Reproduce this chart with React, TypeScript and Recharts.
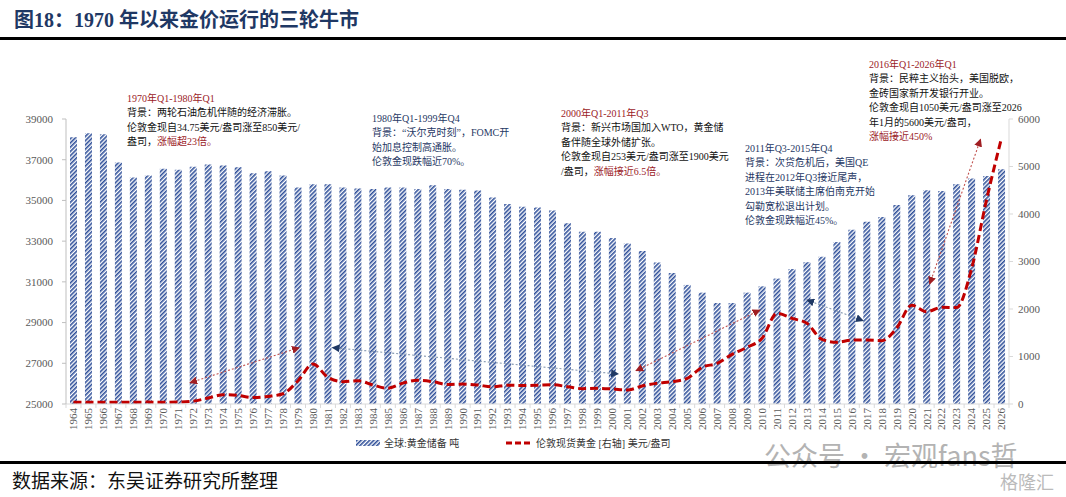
import React from 'react';
import { ComposedChart, Bar, Line, XAxis, YAxis, ReferenceLine } from 'recharts';

// ---------- data ----------
const YEARS = [
  '1964', '1965', '1966', '1967', '1968', '1969', '1970', '1971', '1972', '1973',
  '1974', '1975', '1976', '1977', '1978', '1979', '1980', '1981', '1982', '1983',
  '1984', '1985', '1986', '1987', '1988', '1989', '1990', '1991', '1992', '1993',
  '1994', '1995', '1996', '1997', '1998', '1999', '2000', '2001', '2002', '2003',
  '2004', '2005', '2006', '2007', '2008', '2009', '2010', '2011', '2012', '2013',
  '2014', '2015', '2016', '2017', '2018', '2019', '2020', '2021', '2022', '2023',
  '2024', '2025', '2026',
];

// 全球:黄金储备 吨 (left axis)
const RESERVES = [
  38100, 38300, 38250, 36860, 36130, 36230, 36560, 36510, 36660, 36770,
  36710, 36630, 36330, 36430, 36220, 35640, 35790, 35790, 35640, 35590,
  35560, 35640, 35640, 35560, 35740, 35560, 35530, 35490, 35150, 34820,
  34690, 34650, 34510, 33880, 33460, 33460, 33160, 32880, 32520, 31950,
  31440, 30850, 30470, 29960, 29960, 30470, 30780, 31160, 31630, 31960,
  32230, 32960, 33560, 33950, 34180, 34770, 35260, 35500, 35460, 35800,
  36080, 36200, 36530,
];

// 伦敦现货黄金 美元/盎司 (right axis)
const PRICE = [
  35, 35, 35, 35, 38, 40, 36, 40, 60, 125,
  195, 180, 135, 160, 215, 490, 840, 560, 470, 490,
  400, 330, 440, 500, 470, 410, 420, 400, 360, 395,
  390, 395, 405, 365, 323, 330, 316, 295, 379, 435,
  470, 540, 772, 856, 1046, 1193, 1382, 1909, 1804, 1698,
  1361, 1298, 1347, 1347, 1333, 1600, 2080, 1944, 2035, 2030,
  2850, 4300, 5600,
];

const LEFT_TICKS = [25000, 27000, 29000, 31000, 33000, 35000, 37000, 39000];
const RIGHT_TICKS = [0, 1000, 2000, 3000, 4000, 5000, 6000];
const LEFT_DOMAIN = [25000, 39000];
const RIGHT_DOMAIN = [0, 6000];

const SERIES_BAR = '全球:黄金储备 吨';
const SERIES_LINE = '伦敦现货黄金 [右轴] 美元/盎司';

const TITLE = '图18：1970 年以来金价运行的三轮牛市';
const SOURCE = '数据来源：东吴证券研究所整理';

// arrow annotations: [category index, price] at both ends
const ARROWS = [
  { from: [7.78, 448], to: [15.08, 1186], kind: 'red' },
  { from: [17.3, 1186], to: [36.4, 632], kind: 'blue' },
  { from: [37.58, 701], to: [45.86, 1979], kind: 'red' },
  { from: [49.0, 2189], to: [52.76, 1754], kind: 'blue' },
  { from: [57.2, 2526], to: [60.6, 5572], kind: 'red' },
];

// ---------- styles ----------
const RED = '#9B1B1F';
const BLUE = '#1F3864';
const BLACK = '#111111';
const FONT = "'Liberation Serif', 'Times New Roman', 'Noto Sans CJK SC', serif";
const AXIS_GRAY = '#595959';

const W = 1066;
const H = 497;
const PLOT_LEFT = 66;
const PLOT_RIGHT = 1009;
const PLOT_TOP = 119;
const PLOT_BOTTOM = 404;
const STEP = (PLOT_RIGHT - PLOT_LEFT) / YEARS.length;

type Seg = [string, string?];
const ANNOTATIONS: { x: number; y: number; color: string; lines: Seg[][] }[] = [
  {
    x: 127, y: 99, color: BLACK,
    lines: [
      [['1970年Q1-1980年Q1', RED]],
      [['背景：两轮石油危机伴随的经济滞胀。']],
      [['伦敦金现自34.75美元/盎司涨至850美元/']],
      [['盎司，'], ['涨幅超23倍。', RED]],
    ],
  },
  {
    x: 372, y: 119, color: BLUE,
    lines: [
      [['1980年Q1-1999年Q4']],
      [['背景：“沃尔克时刻”，FOMC开']],
      [['始加息控制高通胀。']],
      [['伦敦金现跌幅近70%。']],
    ],
  },
  {
    x: 561, y: 114, color: BLACK,
    lines: [
      [['2000年Q1-2011年Q3', RED]],
      [['背景：新兴市场国加入WTO，黄金储']],
      [['备伴随全球外储扩张。']],
      [['伦敦金现自253美元/盎司涨至1900美元']],
      [['/盎司，'], ['涨幅接近6.5倍。', RED]],
    ],
  },
  {
    x: 745, y: 149, color: BLUE,
    lines: [
      [['2011年Q3-2015年Q4']],
      [['背景：次贷危机后，美国QE']],
      [['进程在2012年Q3接近尾声，']],
      [['2013年美联储主席伯南克开始']],
      [['勾勒宽松退出计划。']],
      [['伦敦金现跌幅近45%。']],
    ],
  },
  {
    x: 869, y: 65, color: BLACK,
    lines: [
      [['2016年Q1-2026年Q1', RED]],
      [['背景：民粹主义抬头，美国脱欧，']],
      [['金砖国家新开发银行开业。']],
      [['伦敦金现自1050美元/盎司涨至2026']],
      [['年1月的5600美元/盎司，']],
      [['涨幅接近450%', RED]],
    ],
  },
];

const chartData = YEARS.map((year, i) => ({
  year,
  idx: i,
  reserves: RESERVES[i],
  price: PRICE[i],
}));

const XTick = (props: any) => {
  const { x, y, payload, index } = props;
  const isLast = index === YEARS.length - 1;
  return (
    <g>
      <line x1={x - STEP / 2} x2={x - STEP / 2} y1={PLOT_BOTTOM} y2={PLOT_BOTTOM + 4} stroke="#D9D9D9" />
      {isLast && (
        <line x1={x + STEP / 2} x2={x + STEP / 2} y1={PLOT_BOTTOM} y2={PLOT_BOTTOM + 4} stroke="#D9D9D9" />
      )}
      <text
        x={x}
        y={y}
        transform={`rotate(-90, ${x}, ${y})`}
        textAnchor="end"
        dy="0.35em"
        fontSize={11}
        fontFamily={FONT}
        fill={AXIS_GRAY}
      >
        {payload.value}
      </text>
    </g>
  );
};

const makeArrow = (id: string, kind: string) => (p: any) => {
  const { x1, y1, x2, y2 } = p;
  const lineColor = kind === 'red' ? '#C0504D' : '#8497B0';
  const headColor = kind === 'red' ? '#A01E22' : '#1F3864';
  return (
    <g>
      <defs>
        <marker
          id={id}
          viewBox="0 0 10 10"
          refX="9"
          refY="5"
          markerWidth="8"
          markerHeight="8"
          markerUnits="userSpaceOnUse"
          orient="auto-start-reverse"
        >
          <path d="M0,0 L10,5 L0,10 z" fill={headColor} />
        </marker>
      </defs>
      <line
        x1={x1}
        y1={y1}
        x2={x2}
        y2={y2}
        stroke={lineColor}
        strokeWidth={1.1}
        strokeDasharray="2 2"
        markerStart={`url(#${id})`}
        markerEnd={`url(#${id})`}
      />
    </g>
  );
};

const Hatch = ({ w, h }: { w: number; h: number }) => (
  <svg width={w} height={h} style={{ display: 'block' }}>
    <rect x={0} y={0} width={w} height={h} fill="url(#hatchLegend)" />
  </svg>
);

export default function App() {
  return (
    <div style={{ position: 'absolute', left: 0, top: 0, width: W, height: H, background: '#fff', overflow: 'hidden' }}>
      {/* pattern for legend */}
      <svg width={0} height={0} style={{ position: 'absolute' }}>
        <defs>
          <pattern id="hatchLegend" patternUnits="userSpaceOnUse" width={3} height={3} patternTransform="rotate(45)">
            <rect x={0} y={0} width={3} height={3} fill="#ffffff" />
            <rect x={0} y={0} width={1.6} height={3} fill="#2F4F99" />
          </pattern>
        </defs>
      </svg>

      {/* title */}
      <div
        style={{
          position: 'absolute', left: 14, top: 7, fontSize: 20, fontWeight: 'bold', color: BLUE,
          fontFamily: FONT, whiteSpace: 'nowrap', lineHeight: '26px',
        }}
      >
        {TITLE}
      </div>
      <div style={{ position: 'absolute', left: 0, top: 37, width: W, height: 3, background: '#000' }} />

      <div style={{ position: 'absolute', left: 0, top: 0 }}>
        <ComposedChart
          width={W}
          height={H}
          data={chartData}
          margin={{ top: PLOT_TOP, right: W - PLOT_RIGHT - 50, bottom: H - PLOT_BOTTOM - 30, left: PLOT_LEFT - 60 }}
        >
          <defs>
            <pattern id="hatch" patternUnits="userSpaceOnUse" width={3} height={3} patternTransform="rotate(45)">
              <rect x={0} y={0} width={3} height={3} fill="#ffffff" />
              <rect x={0} y={0} width={1.6} height={3} fill="#2F4F99" />
            </pattern>
          </defs>
          <XAxis
            xAxisId="cat"
            dataKey="year"
            type="category"
            interval={0}
            height={30}
            tickLine={false}
            tickSize={0}
            tickMargin={4}
            axisLine={{ stroke: '#D9D9D9' }}
            tick={<XTick />}
          />
          <XAxis
            xAxisId="num"
            dataKey="idx"
            type="number"
            domain={[-0.5, YEARS.length - 0.5]}
            allowDataOverflow
            hide
          />
          <YAxis
            yAxisId="left"
            orientation="left"
            width={60}
            domain={LEFT_DOMAIN}
            ticks={LEFT_TICKS}
            interval={0}
            allowDataOverflow
            tickSize={4}
            tickMargin={9}
            axisLine={{ stroke: '#BFBFBF' }}
            tickLine={{ stroke: '#BFBFBF' }}
            tick={{ fontSize: 11, fontFamily: FONT, fill: AXIS_GRAY }}
          />
          <YAxis
            yAxisId="right"
            orientation="right"
            width={50}
            domain={RIGHT_DOMAIN}
            ticks={RIGHT_TICKS}
            interval={0}
            allowDataOverflow
            tickSize={4}
            tickMargin={5}
            axisLine={{ stroke: '#D9D9D9' }}
            tickLine={{ stroke: '#D9D9D9' }}
            tick={{ fontSize: 11, fontFamily: FONT, fill: AXIS_GRAY }}
          />
          <Bar
            xAxisId="cat"
            yAxisId="left"
            dataKey="reserves"
            name={SERIES_BAR}
            fill="url(#hatch)"
            barSize={7}
            isAnimationActive={false}
          />
          <Line
            xAxisId="cat"
            yAxisId="right"
            dataKey="price"
            name={SERIES_LINE}
            type="monotone"
            stroke="#C00000"
            strokeWidth={3}
            strokeDasharray="8 4"
            dot={false}
            activeDot={false}
            isAnimationActive={false}
          />
          {ARROWS.map((a, i) => (
            <ReferenceLine
              key={i}
              xAxisId="num"
              yAxisId="right"
              segment={[
                { x: a.from[0], y: a.from[1] },
                { x: a.to[0], y: a.to[1] },
              ]}
              ifOverflow="visible"
              shape={makeArrow(`arrow${i}`, a.kind)}
            />
          ))}
        </ComposedChart>
      </div>

      {/* annotations */}
      {ANNOTATIONS.map((a, i) => (
        <div key={i} style={{ position: 'absolute', left: a.x, top: a.y - 7, fontFamily: FONT, fontSize: 10, color: a.color }}>
          {a.lines.map((line, j) => (
            <div key={j} style={{ height: 14.4, lineHeight: '14px', whiteSpace: 'nowrap' }}>
              {line.map((s, k) => (
                <span key={k} style={{ color: s[1] || a.color }}>{s[0]}</span>
              ))}
            </div>
          ))}
        </div>
      ))}

      {/* legend */}
      <div style={{ position: 'absolute', left: 356, top: 435, display: 'flex', alignItems: 'center', fontFamily: FONT, fontSize: 10, color: '#333', whiteSpace: 'nowrap' }}>
        <Hatch w={24} h={6} />
        <span style={{ marginLeft: 4 }}>{SERIES_BAR}</span>
      </div>
      <div style={{ position: 'absolute', left: 506, top: 435, display: 'flex', alignItems: 'center', fontFamily: FONT, fontSize: 10, color: '#333', whiteSpace: 'nowrap' }}>
        <svg width={26} height={6} style={{ display: 'block' }}>
          <line x1={0} y1={3} x2={26} y2={3} stroke="#C00000" strokeWidth={3} strokeDasharray="6 3" />
        </svg>
        <span style={{ marginLeft: 4 }}>{SERIES_LINE}</span>
      </div>

      {/* watermark */}
      <div style={{ position: 'absolute', left: 764, top: 438, fontFamily: "'Noto Sans CJK SC', sans-serif", fontSize: 27, color: '#9a9a9a', opacity: 0.75, whiteSpace: 'nowrap', lineHeight: '34px' }}>
        公众号 · 宏观fans哲
      </div>

      {/* footer */}
      <div style={{ position: 'absolute', left: 0, top: 461, width: W, height: 3, background: '#000' }} />
      <div style={{ position: 'absolute', left: 12, top: 468, fontFamily: "'Noto Sans CJK SC', sans-serif", fontSize: 19, color: '#111', whiteSpace: 'nowrap', lineHeight: '24px' }}>
        {SOURCE}
      </div>
      <div style={{ position: 'absolute', left: 1000, top: 470, fontFamily: "'Noto Sans CJK SC', sans-serif", fontSize: 18, color: '#bbbbbb', whiteSpace: 'nowrap', lineHeight: '22px' }}>
        格隆汇
      </div>
    </div>
  );
}
